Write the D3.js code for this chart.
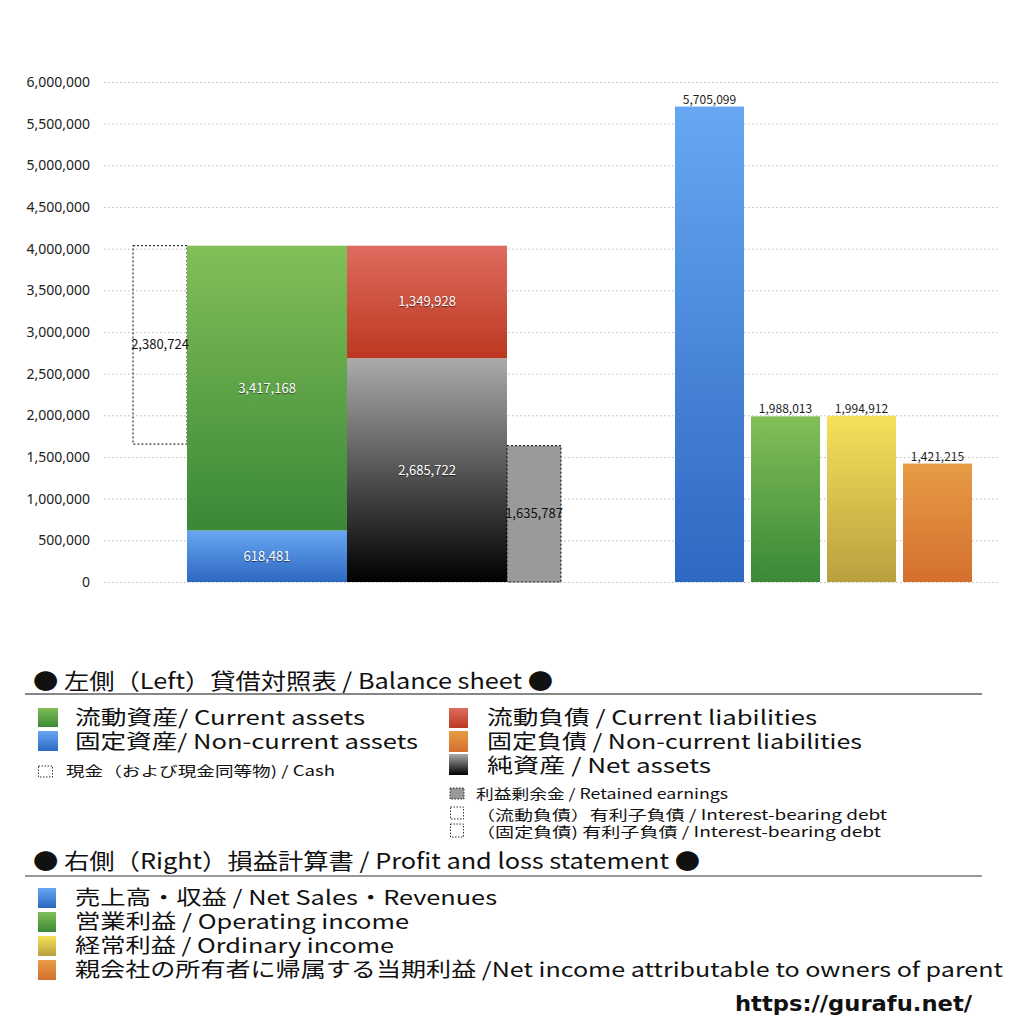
<!DOCTYPE html>
<html>
<head>
<meta charset="utf-8">
<script src="https://cdn.jsdelivr.net/npm/d3@7"></script>
<style>
  body { margin: 0; background: #fff; }
  svg { display: block; }
</style>
</head>
<body>
<svg width="1024" height="1024"></svg>
<script>
// ---- data ----
const yTicks = [0, 500000, 1000000, 1500000, 2000000, 2500000, 3000000, 3500000, 4000000, 4500000, 5000000, 5500000, 6000000];

const bsColumns = ["資産", "負債・純資産"];
const assetNames = ["固定資産", "流動資産"];
const assetValues = [618481, 3417168];
const liabNames = ["純資産", "固定負債", "流動負債"];
const liabValues = [2685722, 0, 1349928];
const cashValue = 2380724;
const retainedValue = 1635787;

const plNames = ["売上高・収益", "営業利益", "経常利益", "当期利益"];
const plValues = [5705099, 1988013, 1994912, 1421215];

const legendBsLeft = ["流動資産/ Current assets", "固定資産/ Non-current assets", "現金（および現金同等物) / Cash"];
const legendBsRight = ["流動負債 /  Current liabilities", "固定負債 / Non-current liabilities", "純資産 / Net assets",
  "利益剰余金 / Retained earnings", "（流動負債）有利子負債 / Interest-bearing debt", "（固定負債) 有利子負債 / Interest-bearing debt"];
const legendPl = ["売上高・収益 / Net Sales・Revenues", "営業利益 / Operating income", "経常利益 / Ordinary income",
  "親会社の所有者に帰属する当期利益 /Net income attributable to owners of parent"];

// ---- setup ----
const svg = d3.select("svg");
const font = "'Noto Sans CJK JP', 'Noto Sans', sans-serif";

const grads = {
  green:  ["#82bf57", "#3a8838"],
  blue:   ["#67a7f2", "#2d68c2"],
  red:    ["#de6b5f", "#bc3820"],
  orange: ["#e69c45", "#d46f2e"],
  black:  ["#ababab", "#000000"],
  yellow: ["#f6e15b", "#b9a03f"]
};
const defs = svg.append("defs");
Object.entries(grads).forEach(([k, c]) => {
  const g = defs.append("linearGradient").attr("id", "g_" + k)
    .attr("x1", 0).attr("y1", 0).attr("x2", 0).attr("y2", 1);
  g.append("stop").attr("offset", "0%").attr("stop-color", c[0]);
  g.append("stop").attr("offset", "100%").attr("stop-color", c[1]);
});

const y = d3.scaleLinear().domain([0, 6000000]).range([582, 82]);

// grid
const grid = svg.append("g")
  .attr("transform", "translate(104,0)")
  .call(d3.axisLeft(y).tickValues(yTicks).tickSize(-896).tickFormat(""));
grid.select(".domain").remove();
grid.selectAll("line").attr("stroke", "#bbb").attr("stroke-dasharray", "1.5,2.5");

// y axis labels
const axis = svg.append("g")
  .attr("transform", "translate(90,0)")
  .call(d3.axisLeft(y).tickValues(yTicks).tickSize(0).tickPadding(0).tickFormat(d3.format(",")));
axis.select(".domain").remove();
axis.selectAll("text").attr("font-family", "'Noto Sans', sans-serif").attr("font-size", 14).attr("fill", "#222");

// ---- balance sheet ----
const xL = d3.scaleBand().domain(bsColumns).range([187, 507]).paddingInner(0);
const bw = xL.bandwidth();
const sideW = bw * 0.3375;

function stackUp(values) {
  let acc = 0;
  return values.map(v => { const s = { y0: acc, y1: acc + v, v: v }; acc += v; return s; });
}
const aStack = stackUp(assetValues);
const lStack = stackUp(liabValues);
const totalAssets = d3.sum(assetValues);
const fmt = d3.format(",");

// cash box
const cashX = xL(bsColumns[0]) - sideW;
svg.append("rect")
  .attr("x", cashX).attr("width", sideW)
  .attr("y", y(totalAssets)).attr("height", y(totalAssets - cashValue) - y(totalAssets))
  .attr("fill", "none").attr("stroke", "#000").attr("stroke-dasharray", "2,2");

const assetFills = ["url(#g_blue)", "url(#g_green)"];
svg.append("g").selectAll("rect").data(aStack).join("rect")
  .attr("x", xL(bsColumns[0])).attr("width", bw)
  .attr("y", d => y(d.y1)).attr("height", d => y(d.y0) - y(d.y1))
  .attr("fill", (d, i) => assetFills[i]);

const liabFills = ["url(#g_black)", "url(#g_orange)", "url(#g_red)"];
svg.append("g").selectAll("rect").data(lStack.filter(d => d.v > 0)).join("rect")
  .attr("x", xL(bsColumns[1])).attr("width", bw)
  .attr("y", d => y(d.y1)).attr("height", d => y(d.y0) - y(d.y1))
  .attr("fill", d => liabFills[lStack.indexOf(d)]);

// retained earnings
const retX = xL(bsColumns[1]) + bw;
svg.append("rect")
  .attr("x", retX).attr("width", sideW)
  .attr("y", y(retainedValue)).attr("height", y(0) - y(retainedValue))
  .attr("fill", "#9a9a9a").attr("stroke", "#000").attr("stroke-dasharray", "2,2");

// labels inside
const inLabels = aStack.map(d => ({ x: xL(bsColumns[0]) + bw / 2, d }))
  .concat(lStack.filter(d => d.v > 0).map(d => ({ x: xL(bsColumns[1]) + bw / 2, d })));
svg.append("g").selectAll("text").data(inLabels).join("text")
  .attr("x", d => d.x).attr("y", d => (y(d.d.y0) + y(d.d.y1)) / 2)
  .attr("dy", "0.35em").attr("text-anchor", "middle")
  .attr("font-family", font).attr("font-size", 13).attr("fill", "#fff")
  .style("text-shadow", "0 1px 1px rgba(0,0,0,0.55)")
  .text(d => fmt(d.d.v));

svg.append("text")
  .attr("x", cashX + sideW / 2).attr("y", (y(totalAssets) + y(totalAssets - cashValue)) / 2)
  .attr("dy", "0.35em").attr("text-anchor", "middle")
  .attr("font-family", font).attr("font-size", 13).attr("fill", "#111")
  .text(fmt(cashValue));
svg.append("text")
  .attr("x", retX + sideW / 2).attr("y", (y(retainedValue) + y(0)) / 2)
  .attr("dy", "0.35em").attr("text-anchor", "middle")
  .attr("font-family", font).attr("font-size", 13).attr("fill", "#111")
  .text(fmt(retainedValue));

// ---- profit and loss ----
const xR = d3.scaleBand().domain(plNames).range([675, 972]).paddingInner(7 / 76).paddingOuter(0);
const plFills = ["url(#g_blue)", "url(#g_green)", "url(#g_yellow)", "url(#g_orange)"];
svg.append("g").selectAll("rect").data(plValues).join("rect")
  .attr("x", (d, i) => xR(plNames[i])).attr("width", xR.bandwidth())
  .attr("y", d => y(d)).attr("height", d => y(0) - y(d))
  .attr("fill", (d, i) => plFills[i]);
svg.append("g").selectAll("text").data(plValues).join("text")
  .attr("x", (d, i) => xR(plNames[i]) + xR.bandwidth() / 2)
  .attr("y", d => y(d) - 3)
  .attr("text-anchor", "middle")
  .attr("font-family", font).attr("font-size", 12).attr("fill", "#222")
  .text(d => fmt(d));

// ---- legend ----
function label(x, yb, txt, size, w, opts = {}) {
  const t = svg.append("text").attr("x", x).attr("y", yb)
    .attr("font-family", opts.family || font).attr("font-size", size)
    .attr("fill", "#111").text(txt);
  if (opts.weight) t.attr("font-weight", opts.weight);
  if (w) t.attr("textLength", w).attr("lengthAdjust", "spacingAndGlyphs");
  return t;
}
function swatch(x, yt, w, h, fill, dashed) {
  const r = svg.append("rect").attr("x", x).attr("y", yt).attr("width", w).attr("height", h).attr("fill", fill);
  if (dashed) r.attr("stroke", "#000").attr("stroke-width", 0.8).attr("stroke-dasharray", "1.5,1.5");
}

label(33, 689, "● 左側（Left）貸借対照表 / Balance sheet ●", 22, 520);
svg.append("line").attr("x1", 25).attr("x2", 982).attr("y1", 694).attr("y2", 694).attr("stroke", "#111");

swatch(38, 708, 20, 19, "url(#g_green)");
label(75, 725, legendBsLeft[0], 20, 290);
swatch(38, 731, 20, 20, "url(#g_blue)");
label(75, 749, legendBsLeft[1], 20, 343);
swatch(38.5, 766, 14, 11, "none", true);
label(66, 776, legendBsLeft[2], 14, 269);

swatch(449, 708, 19, 20, "url(#g_red)");
label(487, 725, legendBsRight[0], 20, 330);
swatch(449, 731, 19, 21, "url(#g_orange)");
label(487, 749, legendBsRight[1], 20, 375);
swatch(449, 754, 19, 21, "url(#g_black)");
label(487, 773, legendBsRight[2], 20, 224);
swatch(450, 788, 14, 11, "#9a9a9a", true);
label(476, 799, legendBsRight[3], 14, 252);
swatch(450.5, 807, 13, 12, "none", true);
label(476, 820, legendBsRight[4], 14, 411);
swatch(450.5, 824, 13, 13, "none", true);
label(476, 837, legendBsRight[5], 14, 405);

label(33, 869, "● 右側（Right）損益計算書 / Profit and loss statement ●", 22, 667);
svg.append("line").attr("x1", 25).attr("x2", 982).attr("y1", 876).attr("y2", 876).attr("stroke", "#777").attr("stroke-width", 1.5);

const plSw = ["url(#g_blue)", "url(#g_green)", "url(#g_yellow)", "url(#g_orange)"];
const plWidths = [422, 334, 319, 928];
legendPl.forEach((t, i) => {
  swatch(38, 888 + i * 24, 18, 20, plSw[i]);
  label(75, 905 + i * 24, t, 20, plWidths[i]);
});

label(735, 1011, "https://gurafu.net/", 22, 237, { weight: "bold", family: "'DejaVu Sans', sans-serif" });
</script>
</body>
</html>
